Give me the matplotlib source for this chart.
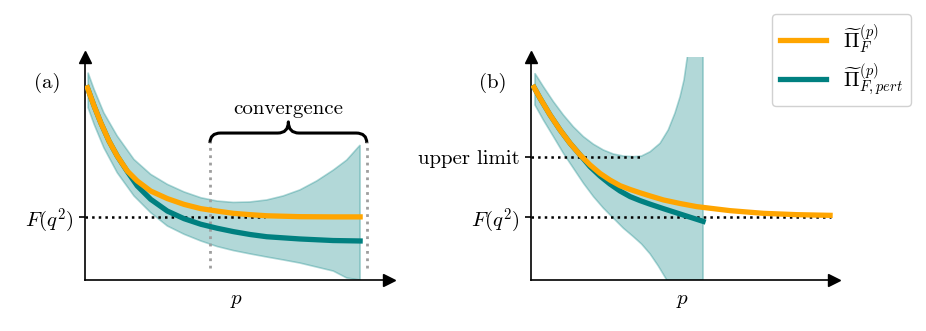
import numpy as np
import matplotlib.pyplot as plt
from matplotlib.path import Path
from matplotlib.patches import PathPatch

plt.rcParams['font.family'] = 'serif'
plt.rcParams['font.serif'] = ['cmr10']
plt.rcParams['mathtext.fontset'] = 'cm'
plt.rcParams['axes.unicode_minus'] = False

ORANGE = '#FFA500'
TEAL = '#008080'

# ---- panel (a): convergent case ----
a_x_line = [0.08, 0.30, 0.52, 0.79, 1.06, 1.39, 1.72, 2.16, 2.71, 3.26, 3.81, 4.35,
            4.88, 5.43, 5.98, 7.07, 8.16, 9.05]
a_full = [8.62, 7.80, 7.05, 6.23, 5.56, 4.89, 4.44, 3.99, 3.65, 3.39, 3.20, 3.09,
          2.99, 2.93, 2.88, 2.84, 2.83, 2.83]
a_pert = [8.62, 7.80, 7.05, 6.23, 5.56, 4.87, 4.22, 3.62, 3.09, 2.75, 2.50, 2.32,
          2.17, 2.04, 1.94, 1.84, 1.77, 1.75]

a_x_band = [0.10, 0.30, 0.62, 1.06, 1.61, 2.16, 2.71, 3.26, 3.81, 4.35, 4.88, 5.43,
            5.98, 6.52, 7.07, 7.62, 8.17, 8.61, 9.05]
a_band_hi = [9.30, 8.55, 7.50, 6.46, 5.41, 4.74, 4.29, 3.95, 3.69, 3.54, 3.48, 3.50,
             3.59, 3.77, 4.04, 4.44, 4.93, 5.38, 6.05]
a_band_lo = [7.73, 6.98, 5.93, 4.81, 3.77, 3.02, 2.42, 2.05, 1.75, 1.50, 1.32, 1.17,
             1.03, 0.90, 0.76, 0.58, 0.40, 0.09, 0.00]

a_F = 2.84
a_F_end = 5.92
a_conv = [4.11, 9.27]          # dotted grey bounds of convergence region
a_conv_y = [0.54, 6.20]

# ---- panel (b): divergent case ----
b_x_full = [0.10, 0.30, 0.63, 0.96, 1.29, 1.62, 1.95, 2.28, 2.61, 2.94, 3.27, 3.60,
            3.93, 4.37, 4.92, 5.47, 6.57, 7.67, 8.77, 9.87]
b_full = [8.64, 8.15, 7.40, 6.73, 6.13, 5.61, 5.16, 4.78, 4.48, 4.23, 4.06, 3.91,
          3.77, 3.59, 3.43, 3.29, 3.11, 2.99, 2.93, 2.90]
b_x_pert = [0.10, 0.30, 0.63, 0.96, 1.29, 1.62, 1.95, 2.28, 2.61, 2.94, 3.27, 3.60,
            3.93, 4.37, 4.92, 5.68]
b_pert = [8.64, 8.15, 7.40, 6.73, 6.13, 5.61, 5.08, 4.66, 4.30, 3.99, 3.74, 3.56,
          3.40, 3.20, 2.96, 2.63]

b_x_hi = [0.13, 0.41, 0.74, 1.07, 1.40, 1.73, 2.06, 2.39, 2.72, 3.05, 3.38, 3.65,
          3.93, 4.26, 4.53, 4.75, 4.92, 5.05, 5.16, 5.21]
b_band_hi = [9.27, 8.67, 8.00, 7.40, 6.87, 6.43, 6.09, 5.83, 5.65, 5.56, 5.53, 5.56,
             5.75, 6.13, 6.73, 7.48, 8.22, 8.97, 10.01, 10.75]
b_x_lo = [0.13, 0.41, 0.74, 1.07, 1.40, 1.73, 2.06, 2.39, 2.72, 3.05, 3.38, 3.65,
          3.93, 4.20, 4.48]
b_band_lo = [7.85, 7.17, 6.43, 5.68, 5.01, 4.34, 3.74, 3.22, 2.77, 2.32, 1.94, 1.61,
             1.17, 0.63, 0.00]
b_band_end = 5.68

b_F = 2.84
b_F_end = 9.90
b_upper = 5.53
b_upper_end = 3.60

fig = plt.figure(figsize=(9.26, 3.31), dpi=100)
ax1 = fig.add_axes([85 / 926, 51 / 331, 304 / 926, 223 / 331])
ax2 = fig.add_axes([531 / 926, 51 / 331, 303 / 926, 223 / 331])


def style_axes(ax, yticks, ylabels, tag):
    ax.set_xlim(0, 10)
    ax.set_ylim(0, 10)
    for s in ['top', 'right']:
        ax.spines[s].set_visible(False)
    for s in ['left', 'bottom']:
        ax.spines[s].set_linewidth(1.2)
    ax.set_xticks([])
    ax.set_yticks(yticks)
    ax.set_yticklabels(ylabels, fontsize=15)
    ax.tick_params(axis='y', direction='out', length=4, width=1.2, pad=4)
    ax.set_xlabel(r'$p$', fontsize=15, labelpad=9)
    ax.plot(1, 0, '>k', ms=9, transform=ax.get_yaxis_transform(), clip_on=False)
    ax.plot(0, 1, '^k', ms=9, transform=ax.get_xaxis_transform(), clip_on=False)
    ax.text(-1.25, 8.83, tag, fontsize=15, ha='center', va='center')


band_face = (0, 0.5, 0.5, 0.3)
band_edge = (0, 0.5, 0.5, 0.3)

# panel (a)
ax1.fill(np.concatenate([a_x_band, a_x_band[::-1]]),
         np.concatenate([a_band_hi, a_band_lo[::-1]]),
         facecolor=band_face, edgecolor=band_edge, lw=1.2, zorder=1)
ax1.plot([0, a_F_end], [a_F, a_F], ':', color='k', lw=1.8, zorder=2)
for xv in a_conv:
    ax1.plot([xv, xv], a_conv_y, ':', color='0.62', lw=2, zorder=2)
ax1.plot(a_x_line, a_pert, color=TEAL, lw=3.8, zorder=3)
ax1.plot(a_x_line, a_full, color=ORANGE, lw=3.8, zorder=4)

# curly brace above the convergence region
xl, xr = a_conv
xm = 0.5 * (xl + xr)
y0, y1, y2 = 6.14, 6.59, 7.09
r = 0.35
verts = [(xl, y0), (xl, y1), (xl + r, y1), (xm - r, y1), (xm, y1), (xm, y2),
         (xm, y1), (xm + r, y1), (xr - r, y1), (xr, y1), (xr, y0)]
codes = [Path.MOVETO, Path.CURVE3, Path.CURVE3, Path.LINETO, Path.CURVE3, Path.CURVE3,
         Path.CURVE3, Path.CURVE3, Path.LINETO, Path.CURVE3, Path.CURVE3]
ax1.add_patch(PathPatch(Path(verts, codes), fill=False, lw=2.2, color='k',
                        capstyle='butt', joinstyle='round', clip_on=False))
ax1.text(xm, 7.25, 'convergence', fontsize=15, ha='center', va='bottom')

style_axes(ax1, [a_F], [r'$F(q^2)$'], '(a)')

# panel (b)
ax2.fill(np.concatenate([b_x_hi, [b_band_end, b_band_end], b_x_lo[::-1]]),
         np.concatenate([b_band_hi, [10.75, 0.0], b_band_lo[::-1]]),
         facecolor=band_face, edgecolor=band_edge, lw=1.2, zorder=1)
ax2.plot([0, b_F_end], [b_F, b_F], ':', color='k', lw=1.8, zorder=2)
ax2.plot([0, b_upper_end], [b_upper, b_upper], ':', color='k', lw=1.8, zorder=2)
l_pert, = ax2.plot(b_x_pert, b_pert, color=TEAL, lw=3.8, zorder=3)
l_full, = ax2.plot(b_x_full, b_full, color=ORANGE, lw=3.8, zorder=4)

style_axes(ax2, [b_F, b_upper], [r'$F(q^2)$', 'upper limit'], '(b)')

fig.legend([l_full, l_pert],
           [r'$\widetilde{\Pi}_F^{(p)}$', r'$\widetilde{\Pi}_{F,pert}^{(p)}$'],
           loc='upper right', bbox_to_anchor=(911 / 926, 1 - 14 / 331),
           borderaxespad=0, fontsize=15, handlelength=2.2, labelspacing=0.25,
           framealpha=1, edgecolor='0.82')

fig.savefig('out.png', dpi=100)
